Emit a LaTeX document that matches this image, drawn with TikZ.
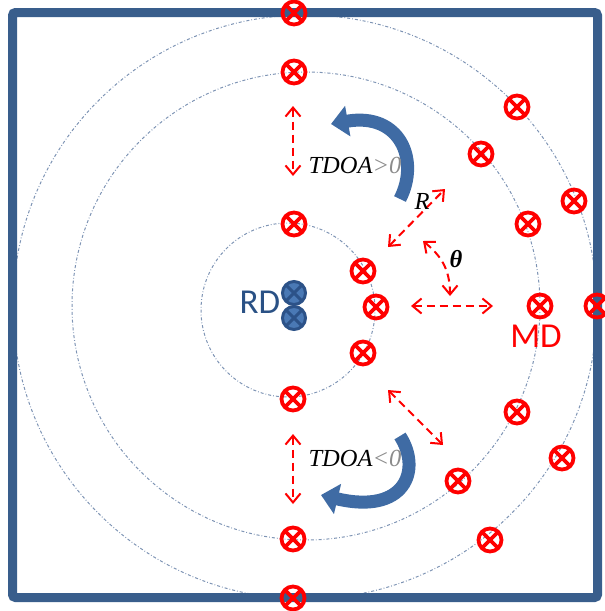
\documentclass[tikz,border=0pt]{standalone}
\usepackage{fontspec}
\setmainfont{Liberation Serif}
\newfontfamily\calib{Carlito}
\usetikzlibrary{arrows.meta}
\definecolor{framecol}{HTML}{395E8C}
\definecolor{ringcol}{HTML}{7E94B4}
\definecolor{arrowblue}{HTML}{3F6BA4}
\definecolor{rdfill}{HTML}{4A79B5}
\definecolor{rdline}{HTML}{2C5288}
\definecolor{tgray}{HTML}{8C8C8C}
\definecolor{rdtext}{HTML}{2A5185}
\begin{document}
\begin{tikzpicture}[x=1pt,y=-1pt,
  sensor/.style={circle, draw=red, line width=3.8pt, minimum size=23pt, inner sep=0pt,
    path picture={\draw[red,line width=3.6pt]
      (path picture bounding box.north west)--(path picture bounding box.south east)
      (path picture bounding box.north east)--(path picture bounding box.south west);}},
  rdsensor/.style={circle, draw=rdline, fill=rdfill, line width=3pt, minimum size=23pt, inner sep=0pt,
    path picture={\draw[rdline,line width=3pt]
      (path picture bounding box.north west)--(path picture bounding box.south east)
      (path picture bounding box.north east)--(path picture bounding box.south west);}},
  ring/.style={ringcol, line width=1pt, dash pattern=on 3pt off 2pt on 0.8pt off 2pt},
  rarrow/.style={red, line width=2pt, dash pattern=on 8pt off 5pt,
    {Straight Barb[length=9pt,width=15pt]}-{Straight Barb[length=9pt,width=15pt]}},
  barrow/.style={arrowblue, line width=13pt, -{Triangle[width=30pt,length=17pt]}},
  lbl/.style={font=\fontsize{24.5}{28}\selectfont, inner sep=0pt},
  big/.style={font=\calib\fontsize{35}{40}\selectfont, inner sep=0pt}
]
\useasboundingbox (0,0) rectangle (605,611);
% range rings
\draw[ring] (288,310) circle[radius=87pt];
\draw[ring] (306,306) circle[radius=234pt];
\draw[ring] (305,307) circle[radius=292pt];
% frame
\draw[framecol, line width=9pt, rounded corners=3pt] (12.5,12.5) rectangle (597.5,597.5);
% red dashed arrows
\coordinate (a1) at (293,106); \coordinate (a2) at (293,176);
\coordinate (b1) at (293,434); \coordinate (b2) at (293,504);
\coordinate (r1) at (388,247); \coordinate (r2) at (445,189);
\coordinate (t1) at (423,241); \coordinate (t2) at (450,296);
\coordinate (h1) at (411,306); \coordinate (h2) at (493,306);
\coordinate (l1) at (388,390); \coordinate (l2) at (443,445);
\draw[rarrow] (a1) -- (a2);
\draw[rarrow] (b1) -- (b2);
\draw[rarrow] (r1) -- (r2);
\draw[rarrow] (t1) .. controls (440,255) and (450,268) .. (t2);
\draw[rarrow] (h1) -- (h2);
\draw[rarrow] (l1) -- (l2);
% blue curved arrows
\coordinate (u1) at (400,199); \coordinate (u2) at (331,124);
\coordinate (d1) at (400,436); \coordinate (d2) at (321,495);
\draw[barrow] (u1) .. controls (420,160) and (400,112) .. (u2);
\draw[barrow] (d1) .. controls (422,470) and (405,515) .. (d2);
% labels
\node[lbl] (tp) at (355,165) {\textit{TDOA}\textcolor{tgray}{\textit{>0}}};
\node[lbl] (tn) at (355,458) {\textit{TDOA}\textcolor{tgray}{\textit{<0}}};
\node[lbl] (rl) at (422,201) {\textit{R}};
\node[lbl] (th) at (456,259) {\bfseries\itshape θ};
\node[big, text=rdtext] (rd) at (260,302) {RD};
\node[big, text=red] (md) at (536,336) {MD};
% sensors
\node[rdsensor] (rd1) at (294,293) {};
\node[rdsensor] (rd2) at (294,318) {};
\foreach \n/\x/\y in {1/294/13, 2/294/72, 3/517/107, 4/481/154, 5/574/201, 6/528/224,
  7/294/224, 8/363/271, 9/376/307, 10/540/306, 11/597/306, 12/363/353, 13/293/399,
  14/517/412, 15/562/458, 16/458/481, 17/293/539, 18/490/540, 19/293/598}
  \node[sensor] (c\n) at (\x,\y) {};
\end{tikzpicture}
\end{document}
